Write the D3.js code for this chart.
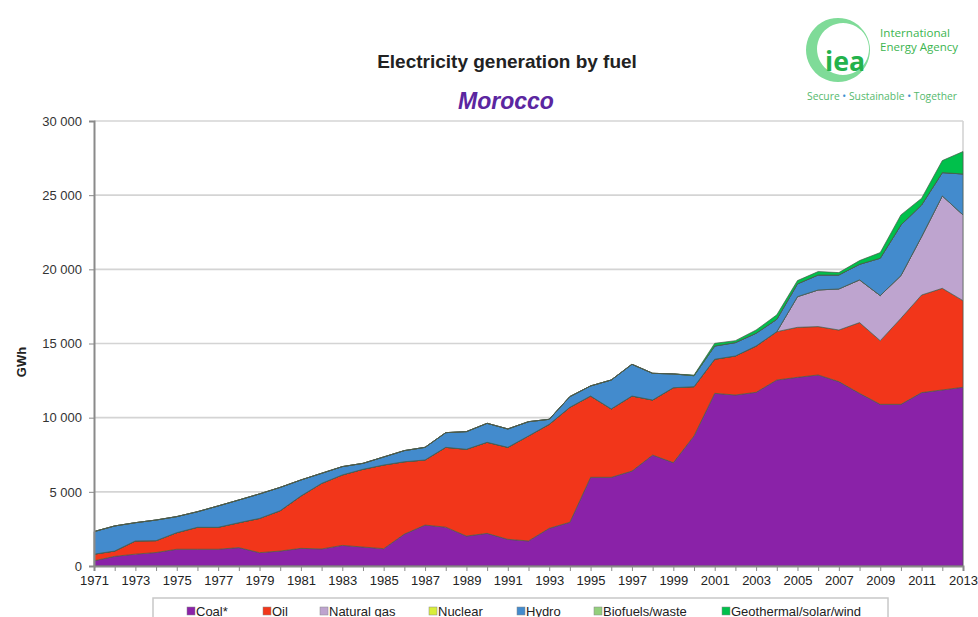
<!DOCTYPE html>
<html lang="en">
<head>
    <meta charset="UTF-8">
    <title>Electricity generation by fuel - Morocco</title>
    <script src="https://d3js.org/d3.v7.min.js"></script>
    <style>
        body { margin: 0; background: #fff; }
        svg text { font-family: "Liberation Sans", Arial, sans-serif; }
    </style>
</head>
<body>
    <div id="chart"></div>

    <script>
        // Data (GWh)
        const years = d3.range(1971, 2014);

        const coal = [350, 650, 800, 910, 1130, 1130, 1130, 1240, 900, 1010,
            1190, 1150, 1390, 1280, 1170, 2150, 2760, 2620, 2020, 2200,
            1800, 1690, 2540, 2950, 5980, 5980, 6400, 7480, 6970, 8770,
            11640, 11530, 11710, 12540, 12720, 12880, 12430, 11640, 10900, 10900,
            11690, 11870, 12050];

        const oil = [450, 360, 890, 800, 1120, 1480, 1480, 1680, 2310, 2720,
            3530, 4420, 4750, 5240, 5640, 4880, 4390, 5380, 5850, 6140,
            6200, 7080, 7010, 7750, 5480, 4610, 5060, 3710, 5050, 3320,
            2300, 2630, 3120, 3260, 3370, 3260, 3480, 4770, 4290, 5800,
            6580, 6850, 5840];

        const gas = [0, 0, 0, 0, 0, 0, 0, 0, 0, 0,
            0, 0, 0, 0, 0, 0, 0, 0, 0, 0,
            0, 0, 0, 0, 0, 0, 0, 0, 0, 0,
            0, 0, 0, 0, 2070, 2470, 2770, 2880, 3040, 2880,
            3940, 6230, 5780];

        const nuclear = [0, 0, 0, 0, 0, 0, 0, 0, 0, 0,
            0, 0, 0, 0, 0, 0, 0, 0, 0, 0,
            0, 0, 0, 0, 0, 0, 0, 0, 0, 0,
            0, 0, 0, 0, 0, 0, 0, 0, 0, 0,
            0, 0, 0];

        const hydro = [1520, 1690, 1230, 1390, 1080, 1050, 1440, 1530, 1650, 1570,
            1080, 680, 560, 400, 540, 750, 850, 990, 1190, 1280,
            1240, 960, 340, 720, 680, 1950, 2140, 1800, 930, 740,
            890, 900, 860, 830, 860, 1010, 940, 1050, 2520, 3410,
            2130, 1570, 2760];

        const biofuels = [0, 0, 0, 0, 0, 0, 0, 0, 0, 0,
            0, 0, 0, 0, 0, 0, 0, 0, 0, 0,
            0, 0, 0, 0, 0, 0, 0, 0, 0, 0,
            0, 0, 0, 0, 0, 0, 0, 0, 0, 0,
            0, 0, 0];

        const renewables = [0, 0, 0, 0, 0, 0, 0, 0, 0, 0,
            0, 0, 0, 0, 0, 0, 0, 0, 0, 0,
            0, 0, 0, 0, 0, 0, 0, 0, 0, 40,
            180, 130, 220, 300, 220, 230, 160, 250, 380, 680,
            450, 810, 1510];

        const fuels = ["Coal*", "Oil", "Natural gas", "Nuclear", "Hydro", "Biofuels/waste", "Geothermal/solar/wind"];
        const fuelSeries = [coal, oil, gas, nuclear, hydro, biofuels, renewables];
        const fuelColors = ["#8a22a8", "#f2361a", "#bea4cf", "#d9ee3a", "#438bcd", "#93cf7c", "#00c04b"];
        const legendX = [187, 263, 320, 429, 517, 594, 722];

        const yTicks = [0, 5000, 10000, 15000, 20000, 25000, 30000];

        // Table for the stack
        const table = years.map((yr, i) => {
            const row = { year: yr };
            fuels.forEach((f, k) => row[f] = fuelSeries[k][i]);
            return row;
        });

        const W = 978, H = 617;
        const svg = d3.select("#chart").append("svg")
            .attr("width", W)
            .attr("height", H);

        const x = d3.scaleLinear().domain([1971, 2013]).range([94, 963]);
        const y = d3.scaleLinear().domain([0, 30000]).range([566, 121]);

        // Gridlines
        svg.append("g")
            .selectAll("line")
            .data(yTicks.filter(d => d > 0))
            .enter().append("line")
            .attr("x1", x(1971))
            .attr("x2", x(2013))
            .attr("y1", d => y(d))
            .attr("y2", d => y(d))
            .attr("stroke", "#d4d4d4")
            .attr("stroke-width", 1.6);

        // right border of plot
        svg.append("line")
            .attr("x1", x(2013)).attr("x2", x(2013))
            .attr("y1", y(30000)).attr("y2", y(0))
            .attr("stroke", "#d4d4d4")
            .attr("stroke-width", 1.6);

        // Stacked areas
        const stack = d3.stack().keys(fuels);
        const layers = stack(table);

        const area = d3.area()
            .x(d => x(d.data.year))
            .y0(d => y(d[0]))
            .y1(d => y(d[1]));

        svg.append("g")
            .selectAll("path")
            .data(layers)
            .enter().append("path")
            .attr("d", area)
            .attr("fill", (d, i) => fuelColors[i])
            .attr("stroke", "#4b5a4b")
            .attr("stroke-width", 0.7)
            .attr("stroke-linejoin", "round");

        // Y axis
        const fmt = d => d3.format(",")(d).replace(/,/g, " ");
        const yAxis = svg.append("g")
            .attr("transform", `translate(${x(1971)},0)`)
            .call(d3.axisLeft(y).tickValues(yTicks).tickFormat(fmt).tickSize(5).tickPadding(7));
        yAxis.select(".domain").attr("stroke", "#8a8a8a").attr("stroke-width", 2);
        yAxis.selectAll(".tick line").attr("stroke", "#8a8a8a");
        yAxis.selectAll("text")
            .attr("font-size", "13px")
            .attr("fill", "#333")
            .style("font-family", "'Liberation Sans', Arial, sans-serif");

        // X axis
        const xAxis = svg.append("g")
            .attr("transform", `translate(0,${y(0)})`)
            .call(d3.axisBottom(x)
                .tickValues(years)
                .tickFormat(d => (d - 1971) % 2 === 0 ? d : "")
                .tickSize(5)
                .tickPadding(5));
        xAxis.select(".domain").attr("stroke", "#8a8a8a").attr("stroke-width", 2);
        xAxis.selectAll(".tick line").attr("stroke", "#8a8a8a");
        xAxis.selectAll("text")
            .attr("font-size", "13px")
            .attr("fill", "#222")
            .style("font-family", "'Liberation Sans', Arial, sans-serif");

        // Y label
        svg.append("text")
            .attr("transform", "translate(26,362) rotate(-90)")
            .attr("text-anchor", "middle")
            .attr("font-size", "13px")
            .attr("font-weight", "bold")
            .attr("fill", "#222")
            .text("GWh");

        // Titles
        svg.append("text")
            .attr("x", 507)
            .attr("y", 67.5)
            .attr("text-anchor", "middle")
            .attr("font-size", "19px")
            .attr("font-weight", "bold")
            .attr("fill", "#222")
            .text("Electricity generation by fuel");

        svg.append("text")
            .attr("x", 506)
            .attr("y", 108.5)
            .attr("text-anchor", "middle")
            .attr("font-size", "23px")
            .attr("font-weight", "bold")
            .attr("font-style", "italic")
            .attr("fill", "#5b26a0")
            .text("Morocco");

        // Legend
        svg.append("rect")
            .attr("x", 153)
            .attr("y", 598)
            .attr("width", 735)
            .attr("height", 40)
            .attr("fill", "#fff")
            .attr("stroke", "#c8c8c8")
            .attr("stroke-width", 1.5);

        const legend = svg.append("g")
            .selectAll("g")
            .data(fuels)
            .enter().append("g")
            .attr("transform", (d, i) => `translate(${legendX[i]},611)`);

        legend.append("rect")
            .attr("x", 0)
            .attr("y", -4)
            .attr("width", 8)
            .attr("height", 8)
            .attr("fill", (d, i) => fuelColors[i])
            .attr("stroke", "#888")
            .attr("stroke-width", 0.5);

        legend.append("text")
            .attr("x", 9)
            .attr("y", 4.5)
            .attr("font-size", "13px")
            .attr("fill", "#222")
            .text(d => d);

        // IEA logo
        const logo = svg.append("g");
        logo.append("path")
            .attr("fill-rule", "evenodd")
            .attr("fill", "#7fdb98")
            .attr("d", "M838,18 a32,32 0 1,0 0.01,0 Z M843,23 a26,26 0 1,0 0.01,0 Z");
        logo.append("text")
            .attr("x", 845)
            .attr("y", 71)
            .attr("text-anchor", "middle")
            .attr("font-size", "26px")
            .attr("font-weight", "bold")
            .attr("fill", "#23b24c")
            .style("font-family", "'Open Sans', 'DejaVu Sans', sans-serif")
            .attr("textLength", 40)
            .attr("lengthAdjust", "spacingAndGlyphs")
            .text("iea");
        logo.append("text")
            .attr("x", 880)
            .attr("y", 37)
            .attr("font-size", "11px")
            .attr("fill", "#3cb54f")
            .style("font-family", "'Open Sans', sans-serif")
            .attr("textLength", 70)
            .attr("lengthAdjust", "spacingAndGlyphs")
            .text("International");
        logo.append("text")
            .attr("x", 880)
            .attr("y", 51)
            .attr("font-size", "11px")
            .attr("fill", "#3cb54f")
            .style("font-family", "'Open Sans', sans-serif")
            .attr("textLength", 78)
            .attr("lengthAdjust", "spacingAndGlyphs")
            .text("Energy Agency");
        const tag = logo.append("text")
            .attr("x", 807)
            .attr("y", 100)
            .attr("font-size", "10px")
            .attr("fill", "#55b96d")
            .style("font-family", "'Open Sans', sans-serif")
            .attr("textLength", 150)
            .attr("lengthAdjust", "spacingAndGlyphs");
        tag.append("tspan").text("Secure ");
        tag.append("tspan").attr("fill", "#3b8fd0").text("•");
        tag.append("tspan").text(" Sustainable ");
        tag.append("tspan").attr("fill", "#3b8fd0").text("•");
        tag.append("tspan").text(" Together");
    </script>
</body>
</html>
